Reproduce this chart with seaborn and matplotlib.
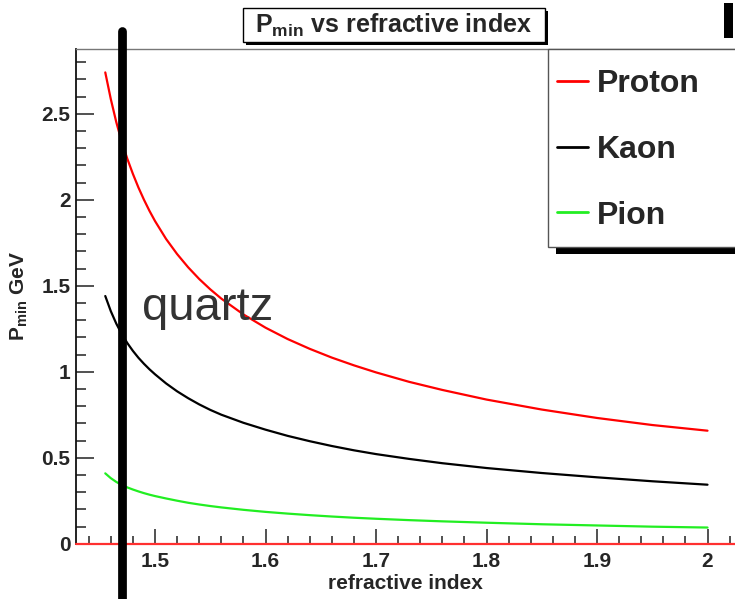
import matplotlib
matplotlib.use("Agg")
import matplotlib.pyplot as plt
from matplotlib.patches import Rectangle
from matplotlib.lines import Line2D
from matplotlib.ticker import MultipleLocator
import pandas as pd
import seaborn as sns

# Minimum momentum for Cherenkov light to escape the radiator, per particle
refractive_index = [1.455, 1.46, 1.465, 1.47, 1.475, 1.48, 1.485, 1.49, 1.495, 1.50,
                    1.51, 1.52, 1.53, 1.54, 1.55, 1.56, 1.58, 1.60, 1.62, 1.64,
                    1.66, 1.68, 1.70, 1.73, 1.76, 1.80, 1.85, 1.90, 1.95, 2.00]
proton_pmin = [2.74, 2.585, 2.45, 2.335, 2.237, 2.15, 2.071, 2.00, 1.935, 1.876,
               1.772, 1.684, 1.607, 1.539, 1.479, 1.425, 1.333, 1.256, 1.19, 1.133,
               1.082, 1.037, 0.996, 0.941, 0.894, 0.838, 0.78, 0.731, 0.69, 0.657]
kaon_pmin = [1.44, 1.352, 1.279, 1.218, 1.166, 1.121, 1.081, 1.046, 1.014, 0.985,
             0.932, 0.886, 0.846, 0.81, 0.778, 0.75, 0.703, 0.663, 0.627, 0.596,
             0.568, 0.543, 0.521, 0.493, 0.468, 0.44, 0.411, 0.386, 0.363, 0.343]
pion_pmin = [0.409, 0.381, 0.359, 0.341, 0.327, 0.315, 0.304, 0.294, 0.285, 0.277,
             0.263, 0.25, 0.238, 0.228, 0.219, 0.211, 0.197, 0.185, 0.175, 0.166,
             0.158, 0.151, 0.145, 0.137, 0.13, 0.122, 0.113, 0.106, 0.099, 0.094]
particles = ["Proton", "Kaon", "Pion"]
particle_colors = ["#ff0000", "#000000", "#22ee22"]
quartz_index = 1.47

x_ticks = [1.5, 1.6, 1.7, 1.8, 1.9, 2.0]
x_tick_labels = ["1.5", "1.6", "1.7", "1.8", "1.9", "2"]
y_ticks = [0, 0.5, 1, 1.5, 2, 2.5]
y_tick_labels = ["0", "0.5", "1", "1.5", "2", "2.5"]

sns.set_style("ticks")
plt.rcParams["font.family"] = ["Liberation Sans", "DejaVu Sans"]
plt.rcParams["mathtext.fontset"] = "custom"
plt.rcParams["mathtext.rm"] = "Liberation Sans:bold"
plt.rcParams["mathtext.it"] = "Liberation Sans:bold"
plt.rcParams["mathtext.bf"] = "Liberation Sans:bold"

W, H = 735, 599
fig = plt.figure(figsize=(W / 100, H / 100), dpi=100)
fig.patch.set_facecolor("white")

# frame in pixel units (from top-left)
px_left, px_right, px_top, px_bottom = 76, 741, 49, 543.7
ax = fig.add_axes([px_left / W, 1 - px_bottom / H,
                   (px_right - px_left) / W, (px_bottom - px_top) / H])

frames = []
for name, vals in zip(particles, [proton_pmin, kaon_pmin, pion_pmin]):
    frames.append(pd.DataFrame({"n": refractive_index, "pmin": vals, "particle": name}))
df = pd.concat(frames, ignore_index=True)

palette = dict(zip(particles, particle_colors))
sns.lineplot(data=df, x="n", y="pmin", hue="particle", hue_order=particles,
             palette=palette, linewidth=1.6, legend=False, ax=ax, zorder=3)

# x scale: 1105 px per unit, 1.5 at x=155 px ; y scale: 172 px per unit
ax.set_xlim(1.5 - (155 - px_left) / 1105, 1.5 + (px_right - 155) / 1105)
ax.set_ylim(0, (px_bottom - px_top) / 172)

ax.set_xticks(x_ticks, x_tick_labels, fontsize=15, fontweight="bold")
ax.set_yticks(y_ticks, y_tick_labels, fontsize=15, fontweight="bold")
ax.xaxis.set_minor_locator(MultipleLocator(0.02))
ax.yaxis.set_minor_locator(MultipleLocator(0.1))
ax.tick_params(axis="x", which="major", direction="in", length=11, width=1.1,
               color="#222222", pad=6)
ax.tick_params(axis="x", which="minor", direction="in", length=5.5, width=1.1,
               color="#222222")
ax.tick_params(axis="y", which="major", direction="in", length=13, width=1.1,
               color="#222222", pad=4)
ax.tick_params(axis="y", which="minor", direction="in", length=7, width=1.1,
               color="#222222")

for side in ["left", "bottom"]:
    ax.spines[side].set_color("#111111")
    ax.spines[side].set_linewidth(1.3)
ax.spines["top"].set_color("#777777")
ax.spines["top"].set_linewidth(1.0)
ax.spines["right"].set_color("#777777")

ax.set_xlabel("refractive index", fontsize=15, fontweight="bold")
ax.xaxis.set_label_coords(0.495, -0.061)
ax.set_ylabel(r"P$_{\mathrm{min}}$ GeV", fontsize=15, fontweight="bold")
ax.yaxis.set_label_coords(-0.069, 0.5)

# zero line along the axis
ax.axhline(0, color="#ff3030", linewidth=1.6, zorder=4, clip_on=False)

# quartz refractive index marker
ax.axvline(quartz_index, ymin=-0.112, ymax=1.036, color="black", linewidth=6.3,
           zorder=6, clip_on=False)
ax.text(1.488, 1.30, "quartz", fontsize=34, color="#333333",
        family="Liberation Sans", va="baseline", ha="left", zorder=7)


def fig_rect(x0, y0, x1, y1, **kw):
    """Rectangle given in pixel coordinates measured from the top-left corner."""
    return Rectangle((x0 / W, 1 - y1 / H), (x1 - x0) / W, (y1 - y0) / H,
                     transform=fig.transFigure, **kw)


# title box with shadow
fig.add_artist(fig_rect(246, 11, 548, 45, facecolor="black", edgecolor="none", zorder=8))
fig.add_artist(fig_rect(243, 8, 545, 42, facecolor="white", edgecolor="black",
                        linewidth=1.0, zorder=9))
fig.text(394 / W, 1 - 25 / H, r"P$_{\mathrm{min}}$ vs refractive index", fontsize=18,
         fontweight="bold", ha="center", va="center", zorder=10)

# legend box with shadow
fig.add_artist(fig_rect(556, 55, 800, 254, facecolor="black", edgecolor="none", zorder=8))
fig.add_artist(fig_rect(548, 49, 790, 247, facecolor="white", edgecolor="#555555",
                        linewidth=1.0, zorder=9))
handles = [Line2D([], [], color=c, linewidth=2.0) for c in particle_colors]
leg = fig.legend(handles, particles, loc="upper left",
                 bbox_to_anchor=(557 / W, 1 - 69 / H), bbox_transform=fig.transFigure,
                 frameon=False, borderpad=0, borderaxespad=0, handlelength=0.97,
                 handletextpad=0.28, labelspacing=1.12,
                 prop={"family": "Liberation Sans", "weight": "bold", "size": 23})
leg.set_zorder(10)

# partial mark at top right corner
fig.add_artist(fig_rect(724, 3, 733, 38, facecolor="black", edgecolor="none", zorder=8))

fig.savefig("out.png", dpi=100)
